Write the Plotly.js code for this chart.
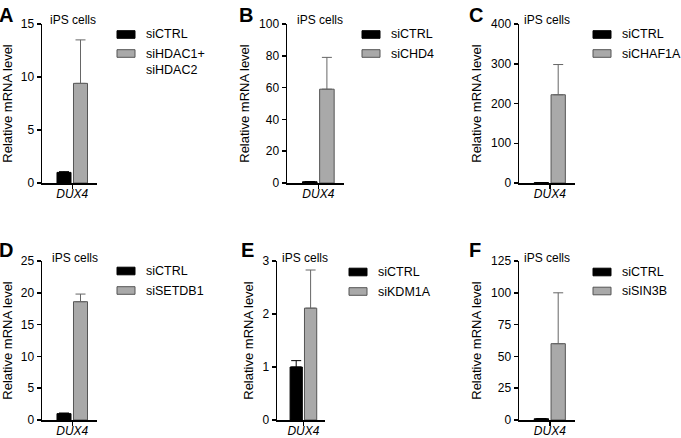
<!DOCTYPE html>
<html>
<head>
<meta charset="utf-8">
<script src="https://cdn.plot.ly/plotly-3.0.1.min.js"></script>
<style>
  html, body { margin: 0; padding: 0; background: #fff; }
  #chart { width: 681px; height: 438px; }
</style>
</head>
<body>
<div id="chart"></div>
<script>
(function() {
  // data
  var panelLetters = ['A', 'B', 'C', 'D', 'E', 'F'];
  var ctrlName = 'siCTRL';
  var kdNames = ['siHDAC1+<br>siHDAC2', 'siCHD4', 'siCHAF1A', 'siSETDB1', 'siKDM1A', 'siSIN3B'];
  var category = 'DUX4';
  var ctrlMean = [1.0, 0.8, 1.0, 1.0, 1.0, 1.0];
  var ctrlErr = [0.07, 0.1, 0.2, 0.1, 0.12, 0.1];
  var kdMean = [9.4, 59, 222, 18.6, 2.11, 60];
  var kdErr = [4.1, 20, 76, 1.2, 0.72, 40];
  var yMax = [15, 100, 400, 25, 3, 125];
  var yStep = [5, 20, 100, 5, 1, 25];
  var cellLabel = 'iPS cells';

  var W = 681, H = 438;
  var FONT = 'Arial, "Liberation Sans", sans-serif';
  var GRAY = '#a9a9a9';

  function fx(p) { return p / W; }
  function fy(p) { return 1 - p / H; }

  // pixel layout per panel
  var axisX = [[42, 97], [287, 344], [519, 575], [42, 97], [277, 325], [519, 575]];
  var axisY = [[24, 183], [24, 183], [24, 183], [261, 420], [261, 420], [261, 420]];
  var legX = [117, 362, 593, 117, 349, 593];
  var legY = [[34.5, 53.5], [34.5, 53.5], [34.5, 53.5], [271, 290.5], [272, 291.5], [272, 291]];
  var cellX = [48, 295, 522, 50, 280, 522];
  var cellY = [20, 20, 20, 258, 258, 258];
  var letterPos = [[6, 15], [246, 15], [476, 15], [6, 250], [247, 250], [475, 250]];

  var traces = [];
  var layout = {
    width: W, height: H,
    margin: {l: 0, r: 0, t: 0, b: 0},
    paper_bgcolor: '#fff', plot_bgcolor: 'rgba(0,0,0,0)',
    showlegend: false,
    barmode: 'group', bargap: 0.4, bargroupgap: 0.15,
    font: {family: FONT, color: '#000', size: 11},
    shapes: [], annotations: []
  };

  panelLetters.forEach(function(letter, i) {
    var n = i === 0 ? '' : String(i + 1);
    var xa = 'x' + n, ya = 'y' + n;

    traces.push({
      type: 'bar', x: [category], y: [ctrlMean[i]], name: ctrlName,
      xaxis: xa, yaxis: ya,
      marker: {color: '#000', line: {color: '#000', width: 1}},
      error_y: {type: 'data', symmetric: false, array: [ctrlErr[i]], arrayminus: [0],
                color: '#000', thickness: 1, width: 5}
    });
    traces.push({
      type: 'bar', x: [category], y: [kdMean[i]], name: kdNames[i],
      xaxis: xa, yaxis: ya,
      marker: {color: GRAY, line: {color: '#555', width: 1}},
      error_y: {type: 'data', symmetric: false, array: [kdErr[i]], arrayminus: [0],
                color: '#666', thickness: 1, width: 5}
    });

    layout['xaxis' + n] = {
      domain: [fx(axisX[i][0]), fx(axisX[i][1])],
      anchor: ya, type: 'category', range: [-0.55, 0.45],
      tickvals: [category], ticktext: ['<i>' + category + '</i>'],
      ticks: 'outside', ticklen: 4, tickwidth: 1.5, tickcolor: '#000',
      ticklabelstandoff: -5,
      showline: true, linecolor: '#000', linewidth: 1.5,
      showgrid: false, zeroline: false, fixedrange: true,
      tickfont: {size: 12, family: FONT}
    };
    layout['yaxis' + n] = {
      domain: [fy(axisY[i][1]), fy(axisY[i][0])],
      anchor: xa, range: [0, yMax[i]], dtick: yStep[i], tick0: 0,
      ticks: 'outside', ticklen: 4, tickwidth: 1.5, tickcolor: '#000',
      showline: true, linecolor: '#000', linewidth: 1.5,
      showgrid: false, zeroline: false, fixedrange: true,
      tickfont: {size: 12, family: FONT},
      title: {text: 'Relative mRNA level', font: {size: 13, family: FONT}, standoff: 6}
    };

    // legend boxes and labels
    var bx0 = legX[i], bx1 = legX[i] + 18;
    [['#000', '#000'], [GRAY, '#555']].forEach(function(c, k) {
      layout.shapes.push({
        type: 'rect', xref: 'paper', yref: 'paper',
        x0: fx(bx0), x1: fx(bx1),
        y0: fy(legY[i][k] + 3.8), y1: fy(legY[i][k] - 3.8),
        fillcolor: c[0], line: {color: c[1], width: 1}
      });
    });
    layout.annotations.push({
      xref: 'paper', yref: 'paper', x: fx(bx1 + 9), y: fy(legY[i][0]),
      xanchor: 'left', yanchor: 'middle', showarrow: false,
      text: ctrlName, font: {size: 12.5, family: FONT}
    });
    var twoLine = kdNames[i].indexOf('<br>') >= 0;
    layout.annotations.push({
      xref: 'paper', yref: 'paper', x: fx(bx1 + 9),
      y: twoLine ? fy(legY[i][1] - 8.5) : fy(legY[i][1]),
      xanchor: 'left', yanchor: twoLine ? 'top' : 'middle', showarrow: false,
      align: 'left', text: kdNames[i], font: {size: 12.5, family: FONT}
    });

    layout.annotations.push({
      xref: 'paper', yref: 'paper', x: fx(cellX[i]), y: fy(cellY[i]),
      xanchor: 'left', yanchor: 'middle', showarrow: false,
      text: cellLabel, font: {size: 12, family: FONT}
    });
    layout.annotations.push({
      xref: 'paper', yref: 'paper', x: fx(letterPos[i][0]), y: fy(letterPos[i][1]),
      xanchor: 'center', yanchor: 'middle', showarrow: false,
      text: '<b>' + letter + '</b>', font: {size: 20, family: FONT}
    });
  });

  Plotly.newPlot('chart', traces, layout, {displayModeBar: false, staticPlot: true});
})();
</script>
</body>
</html>
